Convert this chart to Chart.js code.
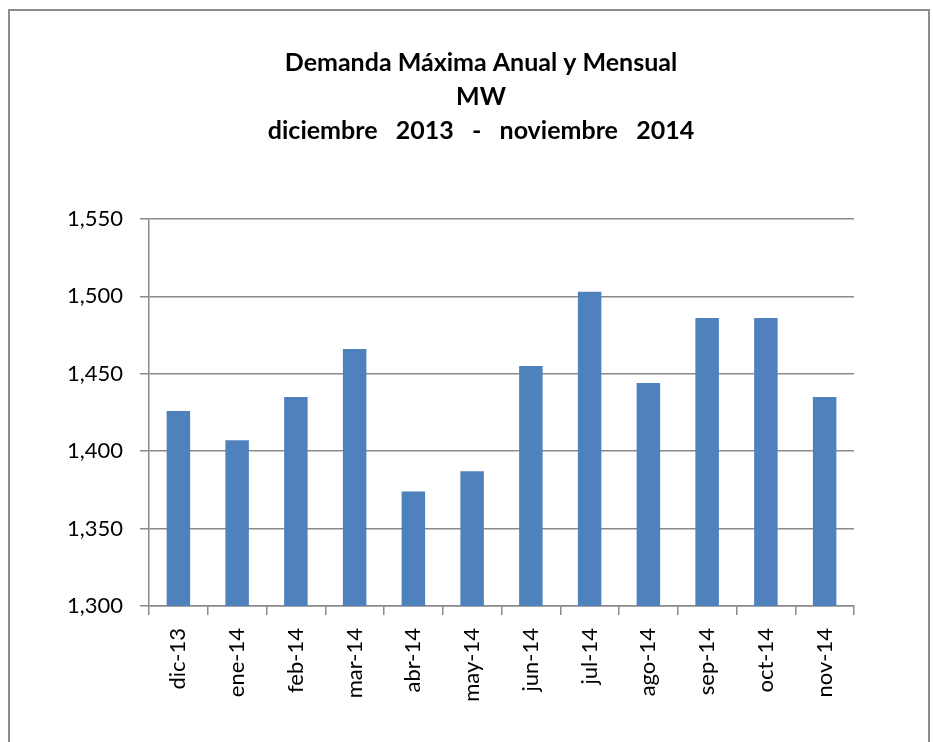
<!DOCTYPE html>
<html>
<head>
<meta charset="utf-8">
<script src="https://cdn.jsdelivr.net/npm/chart.js@4.4.0/dist/chart.umd.min.js"></script>
<style>
  html, body { margin: 0; padding: 0; background: #fff; }
  #frame {
    position: absolute; left: 8px; top: 9px; width: 918px; height: 760px;
    border: 2px solid #8c8c8c;
  }
  #wrap { position: absolute; left: 0; top: 0; width: 933px; height: 742px; }
</style>
</head>
<body>
<div id="frame"></div>
<div id="wrap"><canvas id="chart" width="933" height="742"></canvas></div>
<script>
// data
const months = ["dic-13", "ene-14", "feb-14", "mar-14", "abr-14", "may-14",
  "jun-14", "jul-14", "ago-14", "sep-14", "oct-14", "nov-14"];
const demandMW = [1426, 1407, 1435, 1466, 1374, 1387, 1455, 1503, 1444, 1486, 1486, 1435];
const titleLines = ["Demanda Máxima Anual y Mensual", "MW", "diciembre   2013   -   noviembre   2014"];
const yMin = 1300, yMax = 1550, yStep = 50;

const gridColor = "#8a8a8a";

// draws the three-line title centred over the plot
const titlePlugin = {
  id: "titleLines",
  afterDraw(chart) {
    const c = chart.ctx;
    c.save();
    c.fillStyle = "#000";
    c.font = "bold 25px Lato";
    c.textAlign = "center";
    c.textBaseline = "middle";
    titleLines.forEach((t, i) => c.fillText(t, 481, 63 + i * 34));
    c.restore();
  }
};

new Chart(document.getElementById("chart"), {
  type: "bar",
  data: {
    labels: months,
    datasets: [{
      label: "MW",
      data: demandMW,
      backgroundColor: "#4f81bd",
      borderWidth: 0,
      barPercentage: 0.4,
      categoryPercentage: 1.0
    }]
  },
  options: {
    responsive: false,
    animation: false,
    layout: { padding: { top: 219, right: 79, left: 0, bottom: 0 } },
    plugins: {
      legend: { display: false },
      tooltip: { enabled: false }
    },
    scales: {
      x: {
        afterFit(scale) { scale.height = 136; },
        grid: {
          display: true,
          drawOnChartArea: false,
          drawTicks: true,
          tickLength: 9,
          color: gridColor,
          lineWidth: 1.5,
          offset: true
        },
        border: { color: gridColor, width: 1.5 },
        ticks: {
          color: "#000",
          font: { family: "Lato", size: 22 },
          minRotation: 90,
          maxRotation: 90,
          padding: 13,
          autoSkip: false
        }
      },
      y: {
        min: yMin,
        max: yMax,
        afterFit(scale) { scale.width = 149; },
        grid: {
          color: gridColor,
          lineWidth: 1.5,
          tickLength: 9
        },
        border: { color: gridColor, width: 1.5 },
        ticks: {
          stepSize: yStep,
          color: "#000",
          font: { family: "Lato", size: 22 },
          padding: 17
        }
      }
    }
  },
  plugins: [titlePlugin]
});
</script>
</body>
</html>
